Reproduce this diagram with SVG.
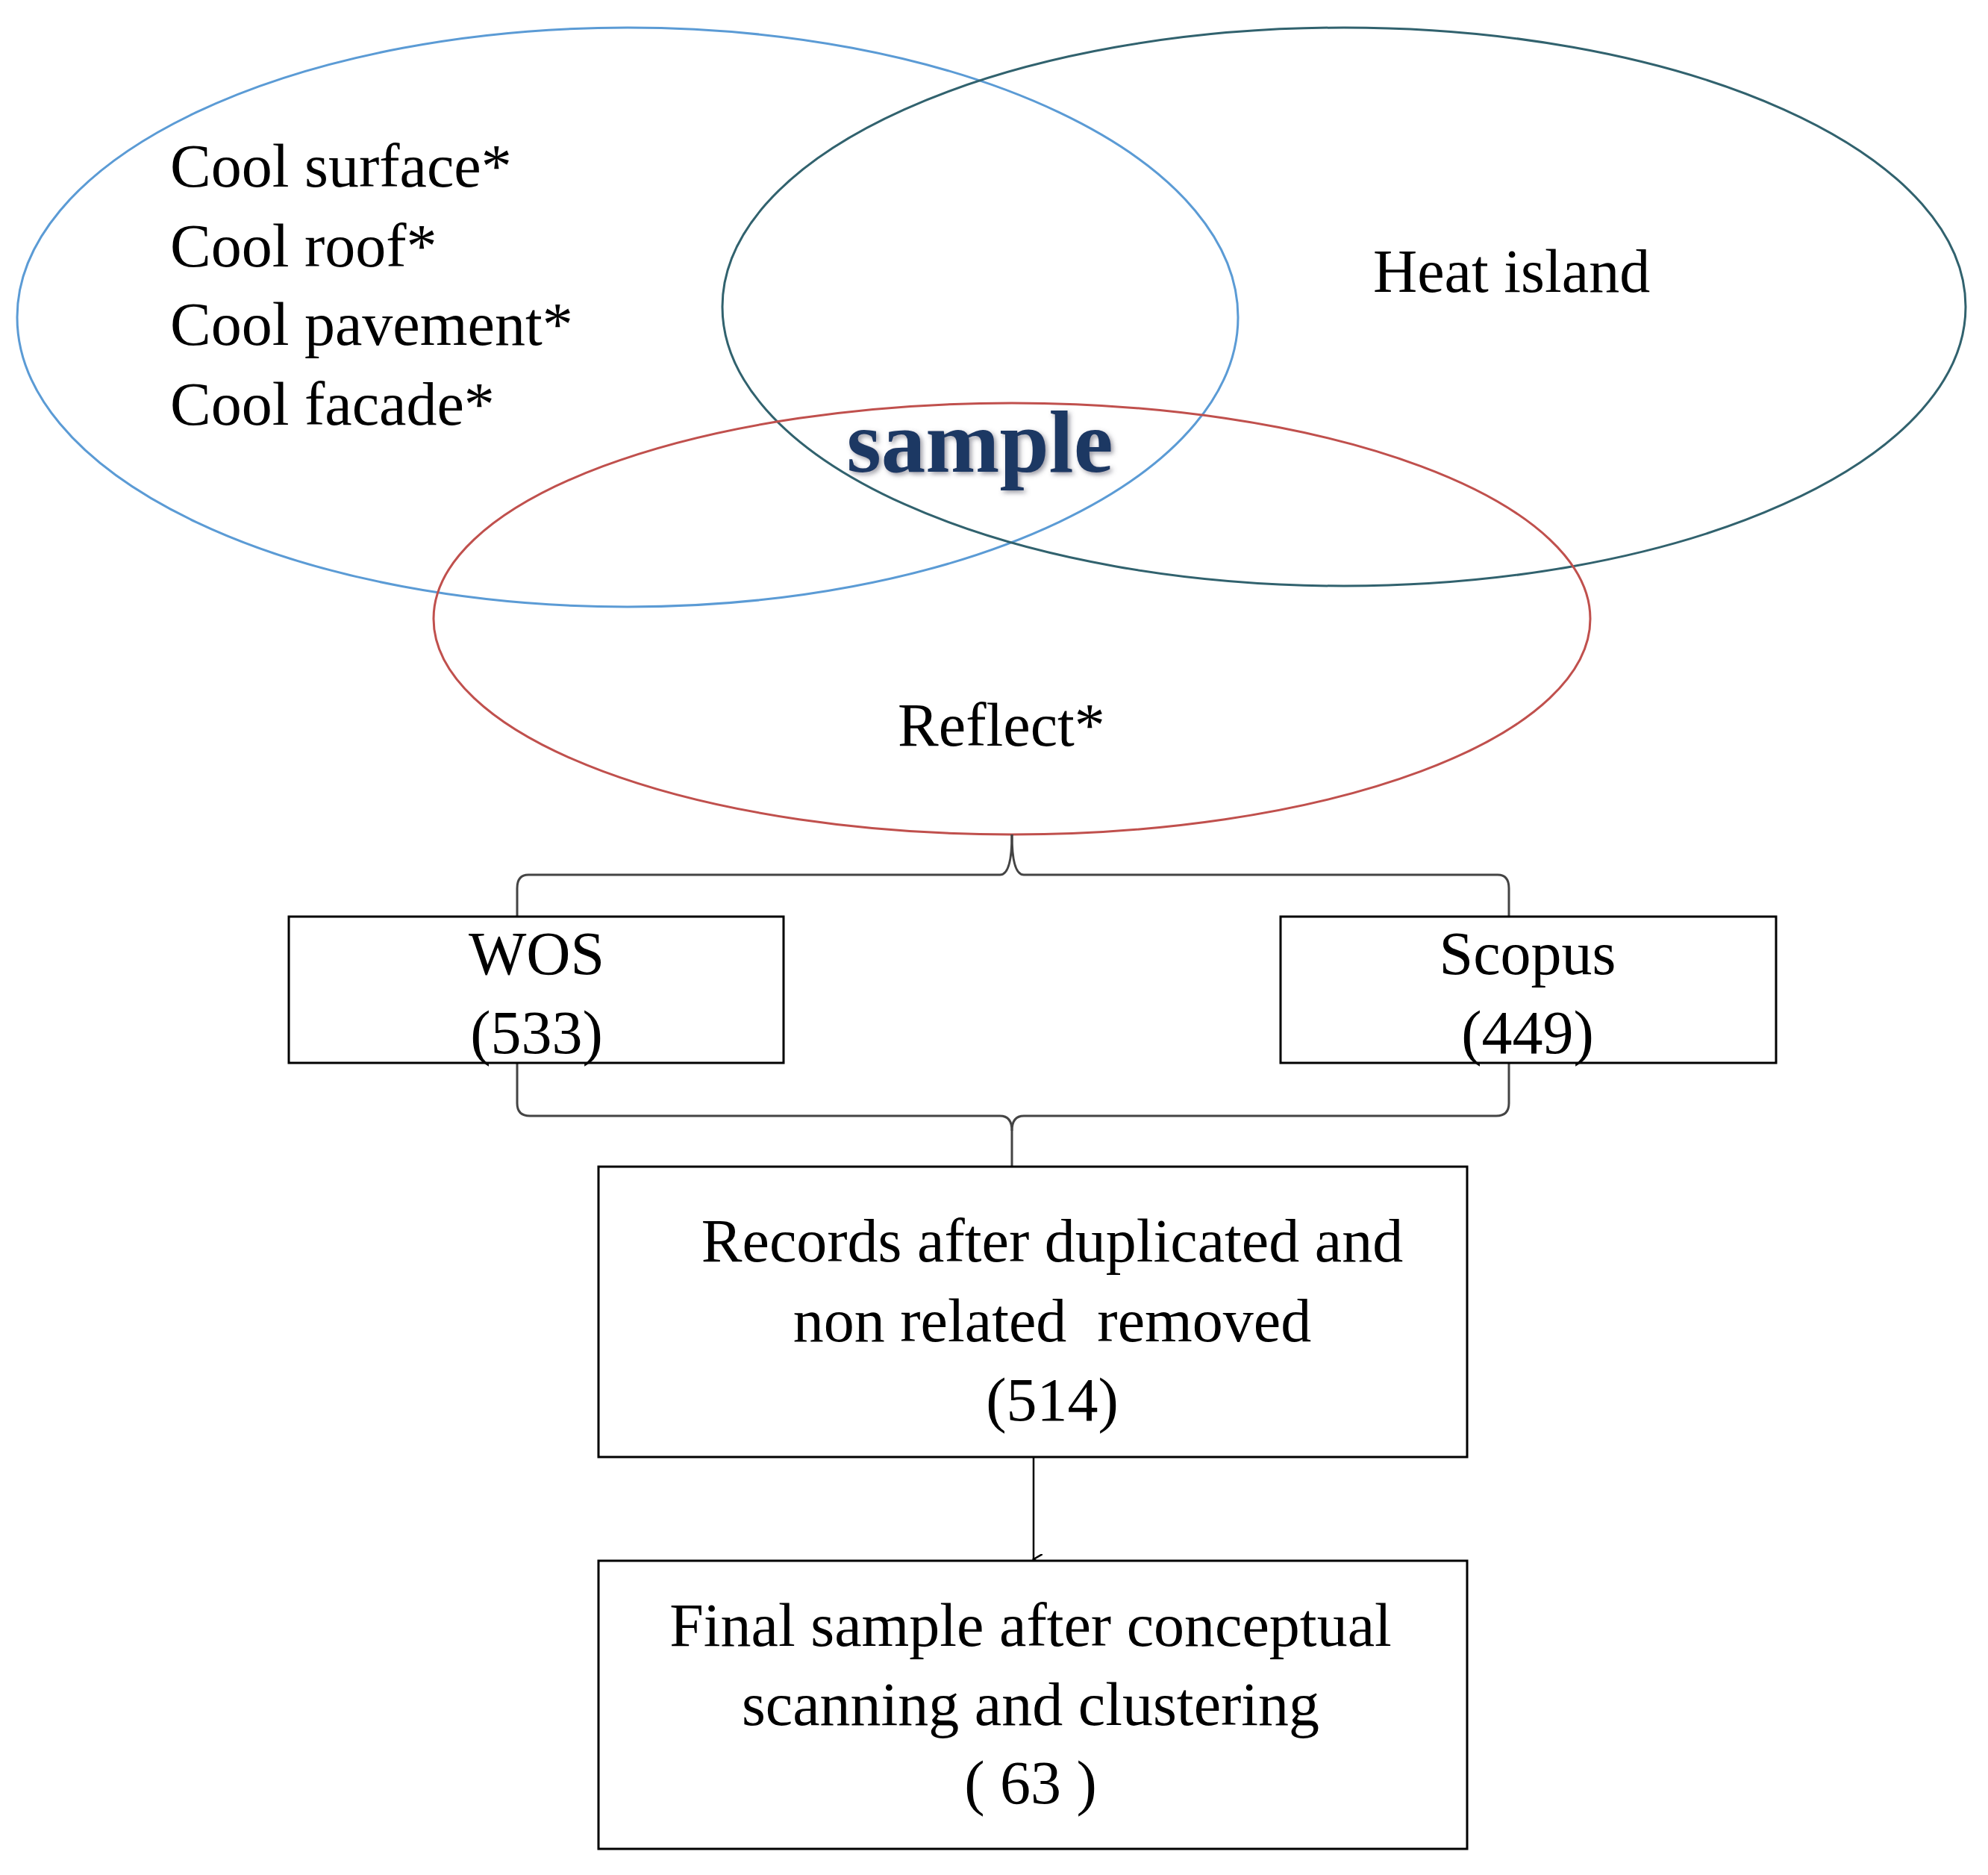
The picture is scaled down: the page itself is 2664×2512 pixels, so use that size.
<svg xmlns="http://www.w3.org/2000/svg" width="2664" height="2512" viewBox="0 0 2664 2512">
<style>
text{font-family:"Liberation Serif","Times New Roman",serif;font-size:82px;fill:#000}
.m{text-anchor:middle}
.box{fill:#fff;stroke:#000;stroke-width:3}
.ln{fill:none;stroke:#444;stroke-width:3}
</style>
<defs>
<marker id="ah" markerWidth="14" markerHeight="14" refX="7" refY="12" orient="auto" markerUnits="userSpaceOnUse"><path d="M0,0 L7,12 L14,0" fill="none" stroke="#000" stroke-width="2.5"/></marker>
<filter id="sh"><feDropShadow dx="3" dy="3" stdDeviation="3" flood-color="#556" flood-opacity="0.6"/></filter>
</defs>
<rect width="2664" height="2512" fill="#fff"/>
<g id="venn">
<ellipse cx="841" cy="425" rx="818" ry="388" fill="none" stroke="#5b9bd5" stroke-width="3"/>
<ellipse cx="1801" cy="411" rx="833" ry="374" fill="none" stroke="#31626e" stroke-width="3"/>
<ellipse cx="1356" cy="829" rx="775" ry="289" fill="none" stroke="#c0504d" stroke-width="3"/>
<text x="228" y="250">Cool surface*</text>
<text x="228" y="357">Cool roof*</text>
<text x="228" y="462">Cool pavement*</text>
<text x="228" y="569">Cool facade*</text>
<text x="1840" y="391">Heat island</text>
<text x="1313" y="632" class="m" style="font-size:119px;font-weight:bold;fill:#1f3864" filter="url(#sh)">sample</text>
<text x="1342" y="999" class="m">Reflect*</text>
</g>
<g id="connectors">
<path class="ln" d="M1356,1118 Q1356,1172 1340,1172 L708,1172 Q693,1172 693,1190 L693,1228"/>
<path class="ln" d="M1356,1118 Q1356,1172 1372,1172 L2007,1172 Q2022,1172 2022,1190 L2022,1228"/>
<path class="ln" d="M693,1424 L693,1478 Q693,1495 710,1495 L1340,1495 Q1356,1495 1356,1515 L1356,1563"/>
<path class="ln" d="M2022,1424 L2022,1478 Q2022,1495 2005,1495 L1372,1495 Q1356,1495 1356,1515"/>
<line x1="1385" y1="1952" x2="1385" y2="2089" stroke="#000" stroke-width="2.5" marker-end="url(#ah)"/>
</g>
<g id="wos"><rect class="box" x="387" y="1228" width="663" height="196"/>
<text x="719" y="1305" class="m">WOS</text><text x="719" y="1411" class="m">(533)</text></g>
<g id="scopus"><rect class="box" x="1716" y="1228" width="664" height="196"/>
<text x="2047" y="1305" class="m">Scopus</text><text x="2047" y="1411" class="m">(449)</text></g>
<g id="records"><rect class="box" x="802" y="1563" width="1164" height="389"/>
<text x="1410" y="1690" class="m">Records after duplicated and</text>
<text x="1410" y="1797" class="m" xml:space="preserve">non related  removed</text>
<text x="1410" y="1903" class="m">(514)</text></g>
<g id="final"><rect class="box" x="802" y="2091" width="1164" height="386"/>
<text x="1381" y="2205" class="m">Final sample after conceptual</text>
<text x="1381" y="2311" class="m">scanning and clustering</text>
<text x="1381" y="2416" class="m" xml:space="preserve">( 63 )</text></g>
</svg>
